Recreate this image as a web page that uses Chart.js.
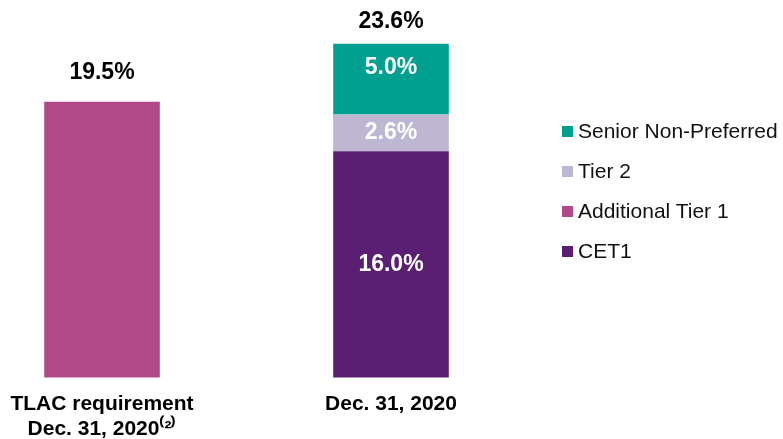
<!DOCTYPE html>
<html>
<head>
<meta charset="utf-8">
<script src="https://cdn.jsdelivr.net/npm/chart.js@4.4.1/dist/chart.umd.min.js"></script>
<style>
  html, body { margin: 0; padding: 0; background: #fff; overflow: hidden; }
  #wrap { position: relative; width: 783px; height: 439px; overflow: hidden; }
  #legend { position: absolute; left: 562px; top: 111px; margin: 0; padding: 0; list-style: none;
            font-family: "Liberation Sans", Arial, sans-serif; font-size: 21px; color: #111; }
  #legend li { display: flex; align-items: center; height: 40px; }
  #legend span.box { display: inline-block; width: 11px; height: 11px; margin-right: 5px; }
</style>
</head>
<body>
<div id="wrap">
  <canvas id="chart1" width="783" height="448"></canvas>
  <ul id="legend"></ul>
</div>
<script>
const categories = [['TLAC requirement', 'Dec. 31, 2020\u207D\u00B2\u207E'], 'Dec. 31, 2020'];
const requirement = [19.5, null];
const cet1 = [null, 16.0];
const additionalTier1 = [null, null];
const tier2 = [null, 2.6];
const seniorNonPreferred = [null, 5.0];

const FONT = '"Liberation Sans", Arial, sans-serif';

const cht1 = document.getElementById('chart1');

// value labels: white inside each segment, black total above each bar
const barLabels = {
  id: 'barLabels',
  afterDatasetsDraw(chart) {
    const ctx = chart.ctx;
    const y = chart.scales.y;
    ctx.save();
    ctx.font = 'bold 23px ' + FONT;
    ctx.textAlign = 'center';
    ctx.textBaseline = 'middle';
    const totals = categories.map(() => 0);
    chart.data.datasets.forEach((ds, i) => {
      const meta = chart.getDatasetMeta(i);
      meta.data.forEach((bar, j) => {
        const v = ds.data[j];
        if (v == null) return;
        totals[j] += v;
        if (ds.inside === false || !v) return;
        ctx.fillStyle = '#fff';
        ctx.fillText(v.toFixed(1) + '%', bar.x, (bar.y + bar.base) / 2 + (ds.labelShift || 0));
      });
    });
    const xs = chart.getDatasetMeta(0).data.map(b => b.x);
    const lift = [29, 22];
    totals.forEach((t, j) => {
      ctx.fillStyle = '#000';
      ctx.fillText(t.toFixed(1) + '%', xs[j], y.getPixelForValue(t) - lift[j]);
    });
    ctx.restore();
  }
};

const chart = new Chart(cht1, {
  type: 'bar',
  data: {
    labels: categories,
    datasets: [
      { label: 'TLAC requirement', data: requirement, backgroundColor: '#B24A8A', inside: false, legend: false },
      { label: 'CET1', data: cet1, backgroundColor: '#5A1E72' },
      { label: 'Additional Tier 1', data: additionalTier1, backgroundColor: '#B24A8A' },
      { label: 'Tier 2', data: tier2, backgroundColor: '#BDB7D3' },
      { label: 'Senior Non-Preferred', data: seniorNonPreferred, backgroundColor: '#00A091', labelShift: -12 }
    ]
  },
  options: {
    responsive: false,
    animation: false,
    layout: { padding: { left: 102, right: 392, top: 24, bottom: 0 } },
    datasets: { bar: { clip: false, barPercentage: 0.8, categoryPercentage: 0.5, borderWidth: 0 } },
    plugins: { legend: { display: false }, tooltip: { enabled: false } },
    scales: {
      x: {
        stacked: true,
        offset: false,
        grid: { display: false },
        border: { display: false },
        ticks: { color: '#000', padding: 6, maxRotation: 0, autoSkip: false,
                 font: { family: FONT, size: 21, weight: 'bold', lineHeight: 1.2 } }
      },
      y: {
        stacked: true,
        display: false,
        min: 0,
        max: 25
      }
    }
  },
  plugins: [barLabels]
});

// legend list, top of stack first
const legendEl = document.getElementById('legend');
chart.data.datasets.filter(ds => ds.legend !== false).reverse().forEach(ds => {
  const li = document.createElement('li');
  li.innerHTML = '<span class="box" style="background:' + ds.backgroundColor + '"></span>' + ds.label;
  legendEl.appendChild(li);
});
</script>
</body>
</html>
